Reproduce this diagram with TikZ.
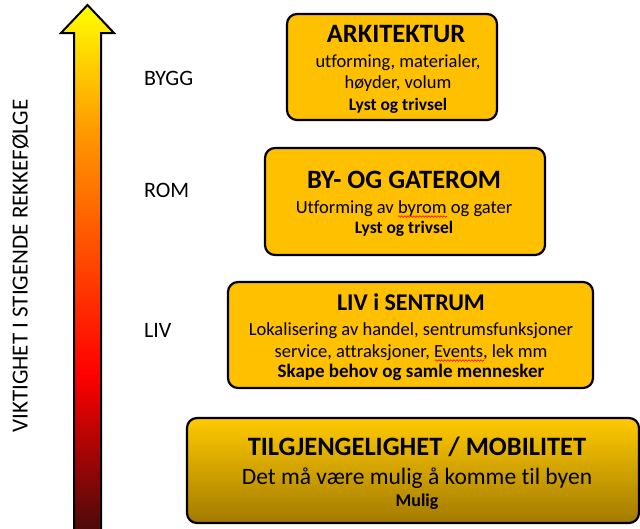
\documentclass[tikz,border=0pt]{standalone}
\usepackage{fontspec}
\setmainfont{Carlito}[Ligatures=NoCommon]
\usetikzlibrary{decorations.pathmorphing}

\definecolor{boxgold}{HTML}{FFC000}
\definecolor{goldtop}{HTML}{FFCA00}
\definecolor{goldbottom}{HTML}{A27A00}
\definecolor{heatdark}{HTML}{4A0A0A}
\definecolor{heatorange}{HTML}{FF9900}
\pgfdeclareverticalshading{heatscale}{100bp}{color(0bp)=(heatdark); color(25bp)=(heatdark); color(40bp)=(red); color(63bp)=(heatorange); color(75bp)=(yellow); color(100bp)=(yellow)}

\newcommand{\fs}[1]{\fontsize{#1}{1.2\dimexpr#1pt\relax}\selectfont}

\begin{document}
\begin{tikzpicture}[
    x=1pt, y=-1pt,
    box/.style={draw=black, line width=2.2pt, rounded corners=10pt, fill=boxgold,
        inner sep=0pt, minimum width=#1},
    boxgrad/.style={box=#1, fill=none, top color=goldtop, bottom color=goldbottom},
    head/.style={anchor=base, font=\fs{26.5}\bfseries},
    txt/.style={anchor=base, font=\fs{18.5}},
    note/.style={anchor=base, font=\fs{17.5}\bfseries},
    level/.style={anchor=base west, font=\fs{22}},
    squiggle/.style={red, line width=0.6pt, decorate,
        decoration={snake, amplitude=0.8pt, segment length=3pt}}
]
    \useasboundingbox (0,0) rectangle (640,528);

    % Importance arrow
    \shade[shading=heatscale, draw=black, line width=2pt]
        (74,532) -- (74,33) -- (61,33) -- (87.5,5) -- (114,33) -- (101,33) -- (101,532) -- cycle;
    \node[rotate=90, font=\fs{23}] (viktighet) at (20.5,266) {VIKTIGHET I STIGENDE REKKEFØLGE};

    % Level labels
    \node[level] (bygg) at (140.5,85) {BYGG};
    \node[level] (rom) at (140.5,197) {ROM};
    \node[level] (liv) at (140.5,337) {LIV};

    % Boxes
    \node[box=210pt, minimum height=106pt] (arkitektur) at (392,67) {};
    \node[box=280pt, minimum height=107pt] (gaterom) at (405,201.5) {};
    \node[box=365pt, minimum height=106pt] (sentrum) at (410.5,335) {};
    \node[boxgrad=452pt, minimum height=105pt] (mobilitet) at (413,470.5) {};

    % Box texts
    \node[head] (ark1) at (396,42) {ARKITEKTUR};
    \node[txt] (ark2) at (398,67) {utforming, materialer,};
    \node[txt] (ark3) at (398,88) {høyder, volum};
    \node[note] (ark4) at (398,110) {Lyst og trivsel};

    \node[head] (gat1) at (404,188) {BY- OG GATEROM};
    \node[txt] (gat2) at (404,213) {Utforming av byrom og gater};
    \node[note] (gat3) at (404,233) {Lyst og trivsel};
    \draw[squiggle] (398,216.5) -- (447,216.5);

    \node[head, font=\fs{24}\bfseries] (sen1) at (411,310) {LIV i SENTRUM};
    \node[txt] (sen2) at (411,335) {Lokalisering av handel, sentrumsfunksjoner};
    \node[txt] (sen3) at (411,357) {service, attraksjoner, Events, lek mm};
    \node[note, font=\fs{19}\bfseries] (sen4) at (411,377) {Skape behov og samle mennesker};
    \draw[squiggle] (435,360.5) -- (484,360.5);

    \node[head] (mob1) at (417,455) {TILGJENGELIGHET / MOBILITET};
    \node[txt, font=\fs{23.5}] (mob2) at (417,484) {Det må være mulig å komme til byen};
    \node[note, font=\fs{18}\bfseries] (mob3) at (417,506) {Mulig};

\end{tikzpicture}
\end{document}
